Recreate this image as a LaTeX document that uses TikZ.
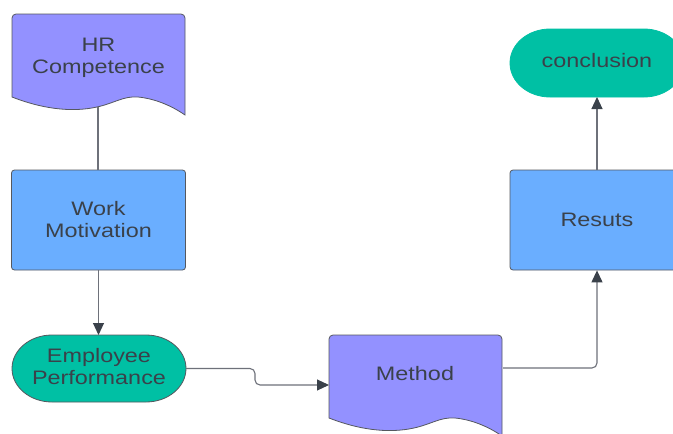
\documentclass[tikz,border=0pt]{standalone}
\usepackage{fontspec}
\setmainfont{Liberation Sans}[FakeStretch=1.2]
\usetikzlibrary{arrows.meta}
\definecolor{docpurple}{RGB}{147,145,255}
\definecolor{boxblue}{RGB}{106,174,255}
\definecolor{tealc}{RGB}{0,192,164}
\definecolor{txt}{RGB}{58,65,74}
\definecolor{edgec}{RGB}{85,88,95}
\definecolor{linec}{RGB}{110,113,122}
\begin{document}
\begin{tikzpicture}[x=1pt,y=-1pt,
  shapeline/.style={draw=edgec, line width=0.8pt},
  lbl/.style={text=txt, font=\fontsize{19.5}{22}\selectfont, align=center, inner sep=0pt},
  boxnode/.style={shapeline, fill=boxblue, rounded corners=3pt, minimum width=174pt, minimum height=100pt, lbl},
  conn/.style={draw=linec, line width=1.1pt},
  arr/.style={conn, -{Triangle[length=12pt,width=11pt,color=txt]}},
  docshape/.pic={\draw[shapeline, fill=docpurple] (0,83) -- (0,4) .. controls (0,1.8) and (1.8,0) .. (4,0) -- (169,0) .. controls (171.2,0) and (173,1.8) .. (173,4) -- (173,101) .. controls (163,94) and (146,85) .. (126,83) .. controls (111,82) and (103,89) .. (85,93) .. controls (58,99) and (28,94) .. (0,83) -- cycle;}
]
\useasboundingbox (0,0) rectangle (673,434);
\clip (0,0) rectangle (673,434);
\fill[white] (0,0) rectangle (673,434);

% HR Competence (document)
\pic at (12,14) {docshape};
\node[lbl] (hr) at (98.5,58) {HR\\Competence};
\coordinate (hrb) at (98,107);

% Work Motivation
\node[boxnode] (wm) at (98.5,220) {Work\\Motivation};

% Employee Performance (stadium)
\draw[shapeline, fill=tealc] (52,335) -- (146,335) .. controls (168,335) and (186,350) .. (186,368.5) .. controls (186,387) and (168,402) .. (146,402) -- (52,402) .. controls (30,402) and (12,387) .. (12,368.5) .. controls (12,350) and (30,335) .. (52,335) -- cycle;
\node[lbl] (ep) at (99,367) {Employee\\Performance};
\coordinate (epT) at (98.5,335);
\coordinate (epR) at (186,368.5);

% Method (document)
\begin{scope}[shift={(329,335)}, xscale=1.01]
\pic at (0,0) {docshape};
\end{scope}
\node[lbl] (me) at (415,374) {Method};
\coordinate (meL) at (329,385);
\coordinate (meR) at (503,368);

% Resuts
\node[boxnode] (re) at (597,220) {Resuts};

% conclusion (stadium)
\draw[shapeline, draw=tealc, fill=tealc] (550,29) -- (644,29) .. controls (666,29) and (684,44) .. (684,63) .. controls (684,82) and (666,97) .. (644,97) -- (550,97) .. controls (528,97) and (510,82) .. (510,63) .. controls (510,44) and (528,29) .. (550,29) -- cycle;
\node[lbl] (co) at (597,61) {conclusion};
\coordinate (coB) at (597,97);

% connectors
\draw[conn] (hrb) -- (hrb |- wm.north);
\draw[arr] (wm.south) -- (epT);
\draw[arr, rounded corners=5pt] (epR) -- ([xshift=69pt]epR) -- ([xshift=69pt]epR |- meL) -- (meL);
\draw[arr, rounded corners=5pt] (meR) -| (re.south);
\draw[arr] (re.north) -- (coB);
\end{tikzpicture}
\end{document}
